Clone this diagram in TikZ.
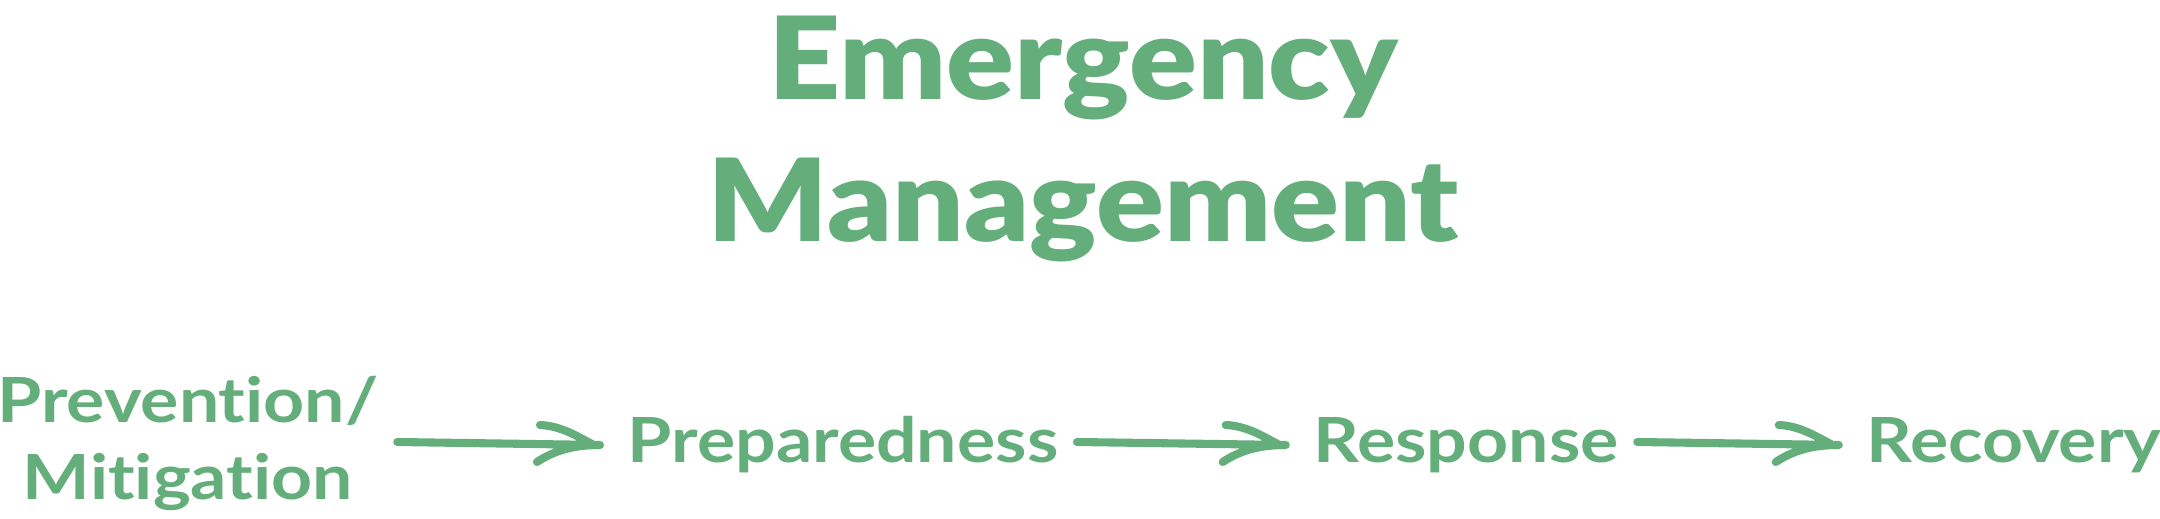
\documentclass[tikz,border=0pt]{standalone}
\usepackage{fontspec}
\usepackage{tikz}
\usetikzlibrary{calc}
\setmainfont{Lato}[Ligatures=NoCommon, FakeStretch=1.15]
\newfontfamily\titlefont{Lato Black}[Ligatures=NoCommon, FakeStretch=1.1]
\definecolor{emgreen}{RGB}{99,174,122}
\newcommand{\stagefont}{\fontsize{17.7pt}{21.9pt}\selectfont\bfseries}

\tikzset{
  heading/.style={text=emgreen, font=\titlefont\fontsize{32.6pt}{40.4pt}\selectfont, align=center, inner sep=0pt},
  stage/.style={text=emgreen, font=\stagefont, inner sep=0pt, text height=12.6pt, text depth=0pt},
  twostage/.style={text=emgreen, font=\stagefont, inner sep=0pt, align=center},
  flow/.style={draw=emgreen, line width=2.3pt, line cap=round, line join=round,
    to path={
      ($(\tikztostart.east |- \tikztotarget.west)+(18,2)$) coordinate (fs)
        -- ($(\tikztotarget.west)+(-27,5)$) coordinate (ft)
      ($(ft)+(-60,-20)$) .. controls ($(ft)+(-38,-19)$) and ($(ft)+(-22,-8)$) .. ($(ft)+(-8,-1)$)
      ($(ft)+(-63,17)$) .. controls ($(ft)+(-45,5)$) and ($(ft)+(-25,0)$) .. (ft)
    }}
}

\begin{document}
\begin{tikzpicture}[x=0.01cm, y=-0.01cm]

\useasboundingbox (0,0) rectangle (2160,519);

% anchor base sits on the last line
\node[heading, anchor=base] (head) at (1083,242) {Emergency\\Management};

\node[twostage, anchor=base] (prev) at (188,500) {Prevention/\\Mitigation};
\node[stage] (prep) at (843,440) {Preparedness};
\node[stage] (resp) at (1466,440) {Response};
\node[stage] (reco) at (2014,440) {Recovery};

\draw[flow] (prev) to (prep);
\draw[flow] (prep) to (resp);
\draw[flow] (resp) to (reco);

\end{tikzpicture}
\end{document}
